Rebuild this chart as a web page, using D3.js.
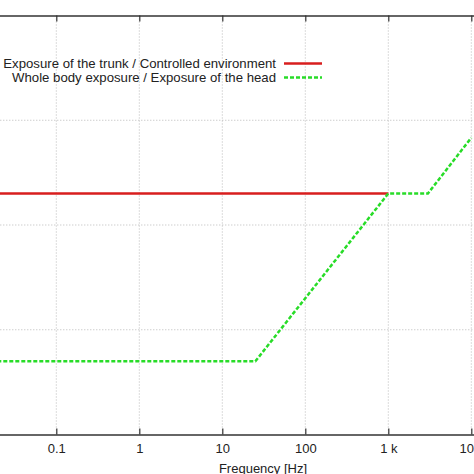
<!DOCTYPE html>
<html>
<head>
<meta charset="utf-8">
<script src="https://cdn.jsdelivr.net/npm/d3@7"></script>
<style>
  html, body { margin: 0; padding: 0; background: #fff; overflow: hidden; }
  svg { display: block; }
  text { font-family: "Liberation Sans", Arial, sans-serif; fill: #222; }
</style>
</head>
<body>
<div id="chart"></div>
<script>
// Exposure limits vs. frequency (log-log), cropped view of a gnuplot figure

const freqTicks = [0.1, 1, 10, 100, 1000, 10000];
const freqTickLabels = ["0.1", "1", "10", "100", "1 k", "10 k"];
const valueTicks = [0.01, 0.1, 1];

const trunkFreq = [0.01, 1000];
const trunkValue = [0.2, 0.2];

const headFreq = [0.01, 25, 1000, 3000, 10000];
const headValue = [0.005, 0.005, 0.2, 0.2, 0.68];

const seriesNames = [
  "Exposure of the trunk / Controlled environment",
  "Whole body exposure / Exposure of the head",
];

const width = 474;
const height = 474;
// plot box extends past the visible crop on the left and right
const decade = 83;
const x1 = 139.3; // pixel of 1 Hz
const x = d3
  .scaleLog()
  .domain([0.01, 100000])
  .range([x1 - 2 * decade, x1 + 5 * decade]);
const y = d3.scaleLog().domain([0.001, 10]).range([434.5, 15.5]);

const svg = d3
  .select("#chart")
  .append("svg")
  .attr("width", width)
  .attr("height", height);

const [px0, px1] = x.range();
const [py1, py0] = y.range();

svg
  .append("defs")
  .append("clipPath")
  .attr("id", "plot")
  .append("rect")
  .attr("x", px0)
  .attr("y", py0)
  .attr("width", px1 - px0)
  .attr("height", py1 - py0);

// grid
const grid = svg
  .append("g")
  .attr("stroke", "#b8b8b8")
  .attr("stroke-width", 1)
  .attr("stroke-dasharray", "1,2");

grid
  .selectAll("line.v")
  .data(freqTicks)
  .enter()
  .append("line")
  .attr("x1", (d) => x(d))
  .attr("x2", (d) => x(d))
  .attr("y1", py0)
  .attr("y2", py1);

grid
  .selectAll("line.h")
  .data(valueTicks)
  .enter()
  .append("line")
  .attr("x1", px0)
  .attr("x2", px1)
  .attr("y1", (d) => y(d))
  .attr("y2", (d) => y(d));

// axes: bottom with labels, top mirrored ticks only
const fmt = (d) => freqTickLabels[freqTicks.indexOf(d)];
const bottomAxis = svg
  .append("g")
  .attr("transform", `translate(0,${py1})`)
  .call(d3.axisBottom(x).tickValues(freqTicks).tickFormat(fmt).tickSizeInner(-6).tickSizeOuter(0).tickPadding(9));
const topAxis = svg
  .append("g")
  .attr("transform", `translate(0,${py0})`)
  .call(d3.axisTop(x).tickValues(freqTicks).tickFormat("").tickSizeInner(-6).tickSizeOuter(0));

[bottomAxis, topAxis].forEach((a) => {
  a.select(".domain").attr("stroke", "#333").attr("stroke-width", 1.5);
  a.selectAll(".tick line").attr("stroke", "#333").attr("stroke-width", 1.2);
});
bottomAxis
  .selectAll(".tick text")
  .attr("font-size", 13)
  .attr("fill", "#222")
  .attr("font-family", "Liberation Sans, Arial, sans-serif");

svg
  .append("text")
  .attr("x", 263)
  .attr("y", 473)
  .attr("text-anchor", "middle")
  .attr("font-size", 13)
  .text("Frequency [Hz]");

// series
const line = d3
  .line()
  .x((d) => x(d[0]))
  .y((d) => y(d[1]));

const plot = svg.append("g").attr("clip-path", "url(#plot)");

plot
  .append("path")
  .datum(d3.zip(trunkFreq, trunkValue))
  .attr("fill", "none")
  .attr("stroke", "#d81e1e")
  .attr("stroke-width", 2.5)
  .attr("d", line);

plot
  .append("path")
  .datum(d3.zip(headFreq, headValue))
  .attr("fill", "none")
  .attr("stroke", "#28dc28")
  .attr("stroke-width", 2.5)
  .attr("stroke-dasharray", "4,2")
  .attr("d", line);

// legend
const legend = svg.append("g");
const styles = [
  { stroke: "#d81e1e", dash: null },
  { stroke: "#28dc28", dash: "4,2" },
];
seriesNames.forEach((name, i) => {
  const ly = 63.5 + i * 14;
  legend
    .append("text")
    .attr("x", 276)
    .attr("y", ly)
    .attr("dy", "0.35em")
    .attr("text-anchor", "end")
    .attr("font-size", 13.2)
    .text(name);
  legend
    .append("line")
    .attr("x1", 284)
    .attr("x2", 322)
    .attr("y1", ly)
    .attr("y2", ly)
    .attr("stroke", styles[i].stroke)
    .attr("stroke-width", 2.5)
    .attr("stroke-dasharray", styles[i].dash);
});
</script>
</body>
</html>
